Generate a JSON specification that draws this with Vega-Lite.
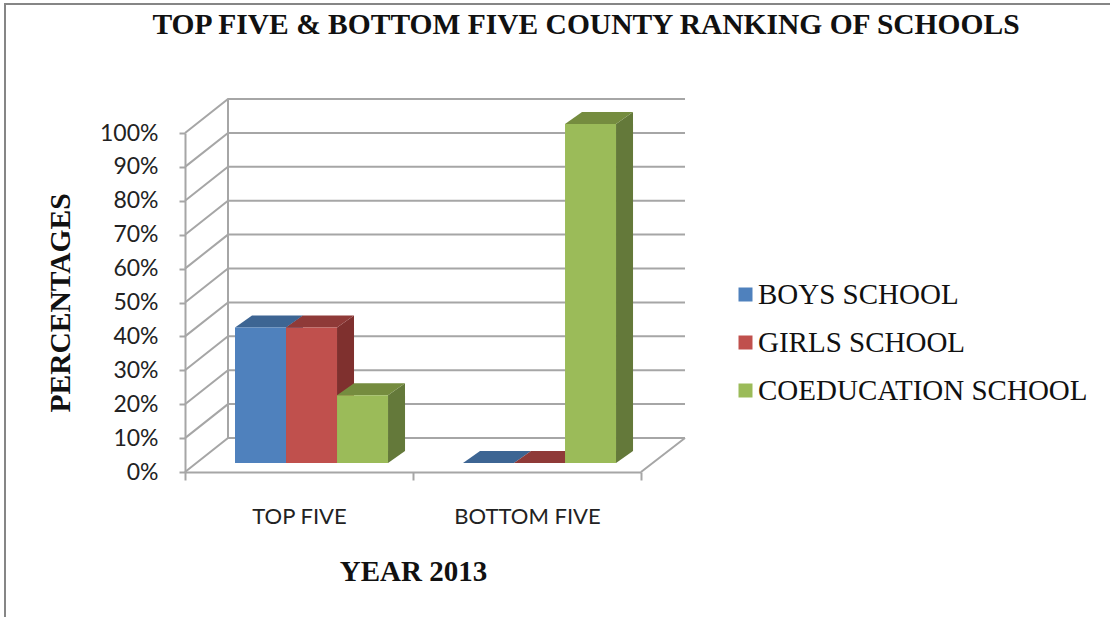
{
"$schema":"https://vega.github.io/schema/vega-lite/v6.json",
"width":456,"height":339,
"autosize":{"type":"none"},
"padding":{"left":185,"top":133,"right":469,"bottom":145},
"background":"white",
"title":{"text":"TOP FIVE & BOTTOM FIVE COUNTY RANKING OF SCHOOLS","font":"Liberation Serif","fontWeight":"bold","fontSize":29.5,"color":"#111111","anchor":"middle","frame":"group","dx":173,"offset":-40},
"datasets":{
"bars":[
{"group":"TOP FIVE","school":"BOYS SCHOOL","value":40},
{"group":"TOP FIVE","school":"GIRLS SCHOOL","value":40},
{"group":"TOP FIVE","school":"COEDUCATION SCHOOL","value":20},
{"group":"BOTTOM FIVE","school":"BOYS SCHOOL","value":0},
{"group":"BOTTOM FIVE","school":"GIRLS SCHOOL","value":0},
{"group":"BOTTOM FIVE","school":"COEDUCATION SCHOOL","value":100}],
"ticks":[{"tick":0},{"tick":10},{"tick":20},{"tick":30},{"tick":40},{"tick":50},{"tick":60},{"tick":70},{"tick":80},{"tick":90},{"tick":100}]
},
"encoding":{
"x":{"field":"group","type":"nominal","scale":{"domain":["TOP FIVE","BOTTOM FIVE"],"paddingInner":0,"paddingOuter":0},
"axis":{"title":"YEAR 2013","titleFont":"Liberation Serif","titleFontWeight":"bold","titleFontSize":29,"titleColor":"#111111","titlePadding":30,"labelFont":"Lato","labelFontSize":22,"labelColor":"#222222","labelAngle":0,"labelPadding":26,"tickBand":"extent","tickSize":8,"tickWidth":2,"tickColor":"#a6a6a6","domainColor":"#a6a6a6","domainWidth":2,"grid":false}},
"y":{"field":"value","type":"quantitative","stack":null,"scale":{"domain":[0,100],"nice":false},
"axis":{"title":"PERCENTAGES","titleFont":"Liberation Serif","titleFontWeight":"bold","titleFontSize":29.5,"titleColor":"#111111","titlePadding":24,"values":[0,10,20,30,40,50,60,70,80,90,100],"labelExpr":"datum.value+'%'","labelFont":"Lato","labelFontSize":23,"labelColor":"#222222","labelPadding":21,"tickSize":6,"tickWidth":2,"tickColor":"#a6a6a6","domainColor":"#a6a6a6","domainWidth":2,"grid":false}}
},
"layer":[
{"data":{"values":[{"tick":100}]},
 "mark":{"type":"point","shape":"M-180,484L-180,-129L925,-129","size":4,"filled":false,"stroke":"#868686","strokeWidth":2,"opacity":1},
 "encoding":{"x":{"datum":"TOP FIVE","type":"nominal","bandPosition":0},"y":{"field":"tick","type":"quantitative"}}},
{"data":{"name":"ticks"},
 "mark":{"type":"point","shape":"M0,0L43,-34L500,-34","size":4,"filled":false,"stroke":"#a6a6a6","strokeWidth":2,"opacity":1},
 "encoding":{"x":{"datum":"TOP FIVE","type":"nominal","bandPosition":0},"y":{"field":"tick","type":"quantitative"}}},
{"data":{"values":[{"tick":0}]},
 "mark":{"type":"point","shape":"M456,0L500,-34M43,-34L43,-373","size":4,"filled":false,"stroke":"#a6a6a6","strokeWidth":2,"opacity":1},
 "encoding":{"x":{"datum":"TOP FIVE","type":"nominal","bandPosition":0},"y":{"field":"tick","type":"quantitative"}}},
{"data":{"name":"bars"},"transform":[{"filter":"datum.value>0"}],
 "mark":{"type":"point","size":4,"filled":true,"strokeWidth":0,"opacity":1},
 "encoding":{"xOffset":{"field":"school","scale":{"domain":["BOYS SCHOOL","GIRLS SCHOOL","COEDUCATION SCHOOL"],"paddingInner":0,"paddingOuter":0.735,"align":0.667}},
 "shape":{"field":"value","type":"nominal","legend":null,"scale":{"domain":[20,40,100],"range":["M25.5,-9L42.5,-21L42.5,46.8L25.5,58.8Z","M25.5,-9L42.5,-21L42.5,114.6L25.5,126.6Z","M25.5,-9L42.5,-21L42.5,318L25.5,330Z"]}},
 "color":{"field":"school","legend":null,"scale":{"domain":["BOYS SCHOOL","GIRLS SCHOOL","COEDUCATION SCHOOL"],"range":["#335a86","#7f302e","#64793a"]}}}},
{"data":{"name":"bars"},
 "mark":{"type":"point","shape":"M-25.5,-9L25.5,-9L42.5,-21L-8.5,-21Z","size":4,"filled":true,"strokeWidth":0,"opacity":1},
 "encoding":{"xOffset":{"field":"school","scale":{"domain":["BOYS SCHOOL","GIRLS SCHOOL","COEDUCATION SCHOOL"],"paddingInner":0,"paddingOuter":0.735,"align":0.667}},
 "color":{"field":"school","legend":null,"scale":{"domain":["BOYS SCHOOL","GIRLS SCHOOL","COEDUCATION SCHOOL"],"range":["#3d6593","#8f3a38","#758c3f"]}}}},
{"data":{"name":"bars"},
 "mark":{"type":"bar","yOffset":-9,"y2Offset":-9,"strokeWidth":0},
 "encoding":{"xOffset":{"field":"school","scale":{"domain":["BOYS SCHOOL","GIRLS SCHOOL","COEDUCATION SCHOOL"],"paddingInner":0,"paddingOuter":0.735,"align":0.667}},"y2":{"datum":0},
 "color":{"field":"school","scale":{"domain":["BOYS SCHOOL","GIRLS SCHOOL","COEDUCATION SCHOOL"],"range":["#4f81bd","#c0504d","#9bbb59"]},
 "legend":{"title":null,"orient":"none","legendX":546,"legendY":147,"symbolType":"square","symbolSize":196,"symbolStrokeWidth":0,"labelFont":"Liberation Serif","labelFontSize":29,"labelColor":"#111111","labelLimit":500,"labelOffset":-2,"rowPadding":18}}}}
],
"resolve":{"scale":{"color":"independent"}},
"config":{"view":{"stroke":null}}
}
